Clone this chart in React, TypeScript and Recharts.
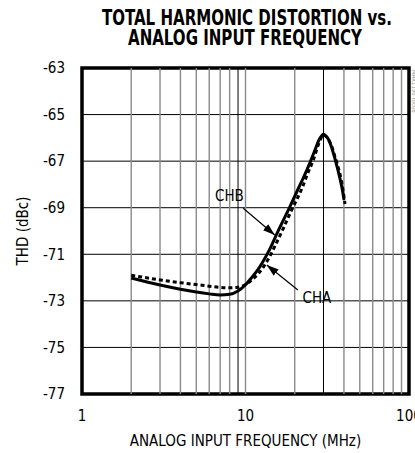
import { LineChart, Line, XAxis, YAxis, ReferenceLine, ReferenceArea, Label } from 'recharts';

const FONT = '"Liberation Sans Narrow", "DejaVu Sans Condensed", Arial, sans-serif';

// CHB (solid) - frequency in MHz, THD in dBc
const chbFreq = [2, 3, 4, 5, 6, 7, 8, 9, 10, 11, 12, 12.8, 13.75, 16, 18.7, 21.54, 23.68, 25.05, 26.24, 27.26, 28.15, 29.04, 29.92, 31.08, 32.19, 33.33, 34.53, 35.77, 37.84, 39.31, 40.04];
const chbThd = [-72.02, -72.32, -72.5, -72.62, -72.7, -72.75, -72.72, -72.58, -72.31, -71.97, -71.63, -71.31, -70.92, -69.93, -68.95, -68.02, -67.4, -66.99, -66.63, -66.33, -66.09, -65.94, -65.85, -65.92, -66.07, -66.33, -66.67, -67.06, -67.75, -68.31, -68.67];

// CHA (dashed)
const chaFreq = [2, 3, 4, 5, 6, 7, 8, 9, 10, 11, 12, 13, 14, 15, 17, 19, 22.5, 24, 26, 28.5, 29.3, 30, 31.3, 32.4, 33.8, 35, 36.4, 38.5, 39.9, 40.6];
const chaThd = [-71.9, -72.1, -72.22, -72.3, -72.37, -72.42, -72.44, -72.42, -72.3, -72.08, -71.83, -71.5, -71.12, -70.7, -69.9, -69.15, -68.05, -67.53, -66.95, -66.12, -65.95, -65.88, -65.96, -66.11, -66.39, -66.74, -67.12, -67.81, -68.45, -68.84];

const xTicks = [1, 10, 100];
const yTicks = [-77, -75, -73, -71, -69, -67, -65, -63];
const gridFreqs = [2, 3, 4, 5, 6, 7, 8, 10, 20, 40, 50, 60, 70, 80, 90];
const darkGridFreqs = [9, 30];
const gridThd = [-75, -73, -71, -69, -67, -65];

const chb = chbFreq.map((f, i) => ({ f, thd: chbThd[i] }));
const cha = chaFreq.map((f, i) => ({ f, thd: chaThd[i] }));

export default function App() {
  return (
    <div style={{ position: 'absolute', left: 0, top: 0, width: 415, height: 453, background: '#fff' }}>
      <svg width={0} height={0} style={{ position: 'absolute' }}>
        <defs>
          <marker id="arrowHead" viewBox="0 0 12 8" refX="12" refY="4" markerWidth="12" markerHeight="8"
            markerUnits="userSpaceOnUse" orient="auto">
            <path d="M0,0 L12,4 L0,8 z" fill="#000" />
          </marker>
        </defs>
      </svg>

      <LineChart width={415} height={453} margin={{ top: 68, right: 6, bottom: 0, left: 0 }}>
        <XAxis type="number" dataKey="f" scale="log" domain={[1, 100]} ticks={xTicks} interval={0}
          allowDataOverflow tickSize={0} tickMargin={16} axisLine={false} height={59}
          tick={{ fill: '#000', fontSize: 15, fontFamily: FONT }}>
          <Label value="ANALOG INPUT FREQUENCY (MHz)" position="insideBottom" offset={7}
            style={{ fill: '#000', fontSize: 15, fontFamily: FONT }} />
        </XAxis>
        <YAxis type="number" domain={[-77, -63]} ticks={yTicks} interval={0} allowDataOverflow
          width={82} tickSize={0} tickMargin={17} axisLine={false}
          tick={{ fill: '#000', fontSize: 15, fontFamily: FONT }}>
          <Label value="THD (dBc)" angle={-90} position="center" dx={-18}
            style={{ fill: '#000', fontSize: 15, fontFamily: FONT }} />
        </YAxis>

        {/* grid */}
        {gridThd.map(v => (
          <ReferenceLine key={'h' + v} y={v} stroke="#000" strokeWidth={1} />
        ))}
        {gridFreqs.map(v => (
          <ReferenceLine key={'v' + v} x={v} stroke="#8a8a8a" strokeWidth={1.4} />
        ))}
        {darkGridFreqs.map(v => (
          <ReferenceLine key={'d' + v} x={v} stroke="#000" strokeWidth={1} />
        ))}

        {/* annotations */}
        <ReferenceArea x1={6.41} x2={9.93} y1={-68.93} y2={-68.05} fill="#fff" fillOpacity={1} stroke="none"
          label={{ value: 'CHB', position: 'center', fill: '#000', fontSize: 15, fontFamily: FONT }} />
        <ReferenceArea x1={21.5} x2={34.8} y1={-73.2} y2={-72.55} fill="#fff" fillOpacity={1} stroke="none"
          label={{ value: 'CHA', position: 'center', fill: '#000', fontSize: 15, fontFamily: FONT }} />
        <ReferenceLine segment={[{ x: 9.69, y: -69.02 }, { x: 15.1, y: -70.17 }]} stroke="#000" strokeWidth={1.2}
          markerEnd="url(#arrowHead)" />
        <ReferenceLine segment={[{ x: 20.9, y: -72.53 }, { x: 13.5, y: -71.46 }]} stroke="#000" strokeWidth={1.2}
          markerEnd="url(#arrowHead)" />

        <Line data={cha} dataKey="thd" type="monotone" stroke="#000" strokeWidth={3} strokeDasharray="4 3"
          dot={false} isAnimationActive={false} />
        <Line data={chb} dataKey="thd" type="monotone" stroke="#000" strokeWidth={3}
          dot={false} isAnimationActive={false} />

        {/* frame */}
        <ReferenceArea x1={1} x2={100} y1={-77} y2={-63} fill="none" stroke="#000" strokeWidth={3.5} />
      </LineChart>

      <svg width={415} height={453} style={{ position: 'absolute', left: 0, top: 0, pointerEvents: 'none' }}>
        <text x={247} y={25} textAnchor="middle" fontSize={21} fontWeight="bold" fontFamily={FONT}
          textLength={290} lengthAdjust="spacingAndGlyphs">TOTAL HARMONIC DISTORTION vs.</text>
        <text x={245} y={45} textAnchor="middle" fontSize={21} fontWeight="bold" fontFamily={FONT}
          textLength={234} lengthAdjust="spacingAndGlyphs">ANALOG INPUT FREQUENCY</text>
        <text x={412} y={70} transform="rotate(90 412 70)" fontSize={6} fill="#999" fontFamily={FONT}>MAX1190 toc06</text>
      </svg>
    </div>
  );
}
